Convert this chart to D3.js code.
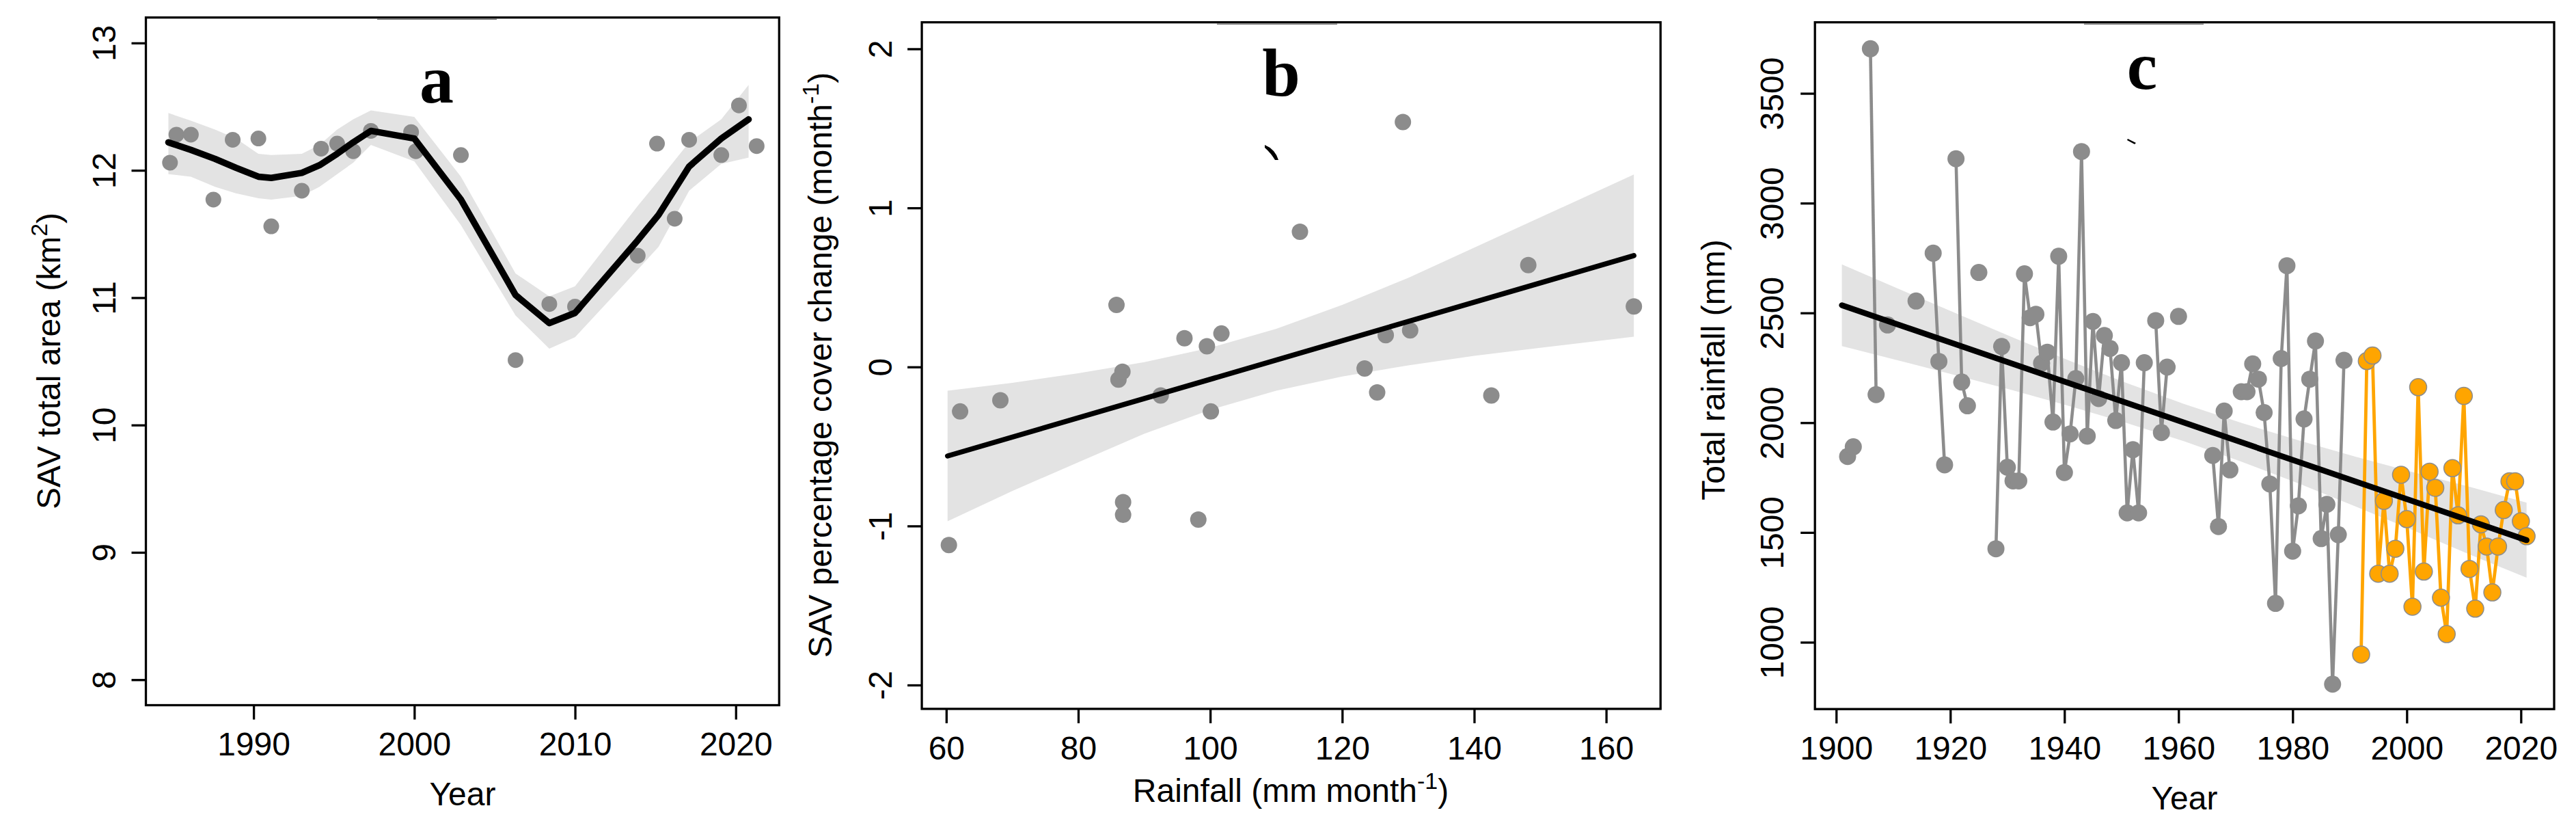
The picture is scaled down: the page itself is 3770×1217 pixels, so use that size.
<!DOCTYPE html>
<html><head><meta charset="utf-8">
<script src="https://cdn.jsdelivr.net/npm/d3@7"></script>
<style>body{margin:0;background:#fff}</style></head>
<body>
<svg id="chart" width="3770" height="1217"></svg>
<script>
// ---------------- DATA ----------------
// Panel a: SAV total area (km2) by year
const aYears = [1984.8,1985.2,1986.1,1987.5,1988.7,1990.3,1991.1,1993.0,1994.2,1995.2,1996.2,1997.3,1999.8,2000.1,2002.9,2006.3,2008.4,2010.0,2013.9,2015.1,2016.2,2017.1,2019.1,2020.2,2021.3];
const aArea  = [12.06,12.28,12.28,11.77,12.24,12.25,11.56,11.84,12.17,12.21,12.15,12.31,12.30,12.15,12.12,10.51,10.95,10.93,11.33,12.21,11.62,12.24,12.12,12.51,12.19];
const aFitYears = [1984.7,1986.1,1987.6,1988.9,1990.3,1991.1,1993.0,1994.1,1995.2,1996.2,1997.3,2000.0,2002.9,2006.3,2008.4,2010.0,2013.9,2015.2,2017.1,2019.1,2020.8];
const aFit      = [12.22,12.16,12.09,12.02,11.95,11.94,11.98,12.04,12.13,12.22,12.31,12.25,11.77,11.02,10.80,10.88,11.45,11.65,12.03,12.25,12.40];
const aFitUpper = [12.45,12.39,12.32,12.25,12.13,12.12,12.13,12.20,12.32,12.40,12.47,12.42,11.95,11.19,11.01,11.09,11.72,11.92,12.22,12.40,12.67];
const aFitLower = [11.97,11.95,11.87,11.82,11.78,11.77,11.80,11.87,11.97,12.06,12.20,12.07,11.57,10.86,10.60,10.69,11.22,11.40,11.84,12.05,12.10];
const aXTicks = [1990,2000,2010,2020];
const aYTicks = [8,9,10,11,12,13];

// Panel b: rainfall (mm/month) vs SAV % cover change (per month)
const bRain   = [60.4,62.1,68.2,85.8,86.1,86.7,86.8,86.8,92.5,96.1,98.2,99.5,100.1,101.7,113.6,123.4,125.3,126.6,129.2,130.3,142.6,148.2,164.2];
const bChange = [-1.12,-0.28,-0.21,0.39,-0.08,-0.03,-0.85,-0.93,-0.18,0.18,-0.96,0.13,-0.28,0.21,0.85,-0.01,-0.16,0.20,1.54,0.23,-0.18,0.64,0.38];
const bFitX = [60.2,164.2];
const bFit  = [-0.56,0.70];
const bBandX     = [60.2,70,80,90,100,110,120,130,140,150,164.2];
const bBandUpper = [-0.15,-0.10,-0.04,0.03,0.12,0.24,0.39,0.56,0.75,0.94,1.21];
const bBandLower = [-0.97,-0.78,-0.60,-0.42,-0.27,-0.15,-0.06,0.01,0.07,0.12,0.19];
const bXTicks = [60,80,100,120,140,160];
const bYTicks = [-2,-1,0,1,2];

// Panel c: total annual rainfall (mm)
const cYearsGray = [1902,1903,1906,1907,1909,1914,1917,1918,1919,1921,1922,1923,1925,1928,1929,1930,1931,1932,1933,1934,1935,1936,1937,1938,1939,1940,1941,1942,1943,1944,1945,1946,1947,1948,1949,1950,1951,1952,1953,1954,1956,1957,1958,1960,1966,1967,1968,1969,1971,1972,1973,1974,1975,1976,1977,1978,1979,1980,1981,1982,1983,1984,1985,1986,1987,1988,1989];
const cRainGray  = [1846,1890,3703,2128,2445,2554,2772,2279,1808,3202,2185,2077,2684,1426,2347,1797,1735,1735,2678,2478,2494,2271,2321,2003,2758,1773,1949,2201,3235,1939,2461,2110,2397,2338,2010,2273,1589,1877,1589,2273,2465,1955,2253,2484,1851,1527,2053,1785,2141,2141,2268,2198,2046,1721,1177,2292,2715,1415,1621,2017,2198,2372,1472,1628,809,1490,2284];
const cYearsOrange = [1992,1993,1994,1995,1996,1997,1998,1999,2000,2001,2002,2003,2004,2005,2006,2007,2008,2009,2010,2011,2012,2013,2014,2015,2016,2017,2018,2019,2020,2021];
const cRainOrange  = [944,2281,2306,1312,1644,1312,1426,1763,1561,1162,2162,1322,1777,1703,1203,1037,1793,1578,2122,1334,1153,1537,1436,1227,1436,1602,1733,1733,1551,1483];
const cTrendYears = [1901,2021];
const cTrend      = [2535,1465];
const cBandYears = [1901,1911,1921,1931,1941,1951,1961,1971,1981,1991,2001,2011,2021];
const cBandUpper = [2721,2609,2498,2388,2281,2180,2085,1999,1920,1845,1775,1708,1636];
const cBandLower = [2349,2283,2216,2147,2075,1998,1915,1823,1724,1619,1511,1400,1294];
const cXTicks = [1900,1920,1940,1960,1980,2000,2020];
const cYTicks = [1000,1500,2000,2500,3000,3500];

// ---------------- STYLE ----------------
const SANS = "'Liberation Sans', Arial, Helvetica, sans-serif";
const SERIF = "'Liberation Serif', 'Times New Roman', serif";
const FS = 48;
const PT = "#8c8c8c", BAND = "#e3e3e3", ORANGE = "#ffa500";

const svg = d3.select("#chart");
svg.append("rect").attr("width",3770).attr("height",1217).attr("fill","#fff");

function axes(g, x, y, box, xt, yt){
  const gx = g.append("g").attr("transform",`translate(0,${box.B})`)
    .call(d3.axisBottom(x).tickValues(xt).tickSize(21).tickFormat(d=>String(d)));
  gx.select(".domain").remove();
  gx.attr("font-size",FS).attr("font-family",SANS);
  gx.selectAll(".tick line").attr("stroke","#000").attr("stroke-width",3.3);
  gx.selectAll(".tick text").attr("fill","#000").attr("y",box.xlab).attr("dy","0.35em");
  const gy = g.append("g").attr("transform",`translate(${box.L},0)`)
    .call(d3.axisLeft(y).tickValues(yt).tickSize(21).tickFormat(d=>String(d)));
  gy.select(".domain").remove();
  gy.attr("font-size",FS).attr("font-family",SANS);
  gy.selectAll(".tick line").attr("stroke","#000").attr("stroke-width",3.3);
  gy.selectAll(".tick text").attr("fill","#000").attr("x",0).attr("dy","0.35em")
    .attr("text-anchor","middle").attr("transform",`translate(${-box.ylab},0) rotate(-90)`);
  g.append("rect").attr("x",box.L).attr("y",box.T).attr("width",box.R-box.L).attr("height",box.B-box.T)
    .attr("fill","none").attr("stroke","#000").attr("stroke-width",3.3);
  // slight thickening of top border segment (as in the original image)
  g.append("line").attr("x1",box.seg[0]).attr("x2",box.seg[1]).attr("y1",box.T+2.6).attr("y2",box.T+2.6)
    .attr("stroke","#777").attr("stroke-width",1.6);
}
function letter(g, s, x, y){
  g.append("text").attr("x",x).attr("y",y).attr("text-anchor","middle")
    .attr("font-family",SERIF).attr("font-weight","bold").attr("font-size",100).attr("fill","#000").text(s);
}
function xTitle(g, x, y, parts){
  const t = g.append("text").attr("x",x).attr("y",y).attr("dy","0.35em").attr("text-anchor","middle")
    .attr("font-family",SANS).attr("font-size",FS).attr("fill","#000");
  parts.forEach(p=>{
    const ts = t.append("tspan").text(p.t);
    if(p.sup){ ts.attr("font-size",34).attr("dy",-19); }
    else if(p.after){ ts.attr("dy",19); }
  });
}
function yTitle(g, x, y, parts){
  const t = g.append("text").attr("transform",`translate(${x},${y}) rotate(-90)`).attr("text-anchor","middle")
    .attr("font-family",SANS).attr("font-size",FS).attr("fill","#000");
  parts.forEach(p=>{
    const ts = t.append("tspan").text(p.t);
    if(p.sup){ ts.attr("font-size",34).attr("dy",-19); }
    else if(p.after){ ts.attr("dy",19); }
  });
}

// ---------------- PANEL A ----------------
{
  const box = {L:213.5,R:1140.3,T:25.6,B:1031.5,xlab:57,ylab:61,seg:[552,727]};
  const x = d3.scaleLinear().domain([1983.30,2022.70]).range([box.L,box.R]);
  const y = d3.scaleLinear().domain([7.8,13.2]).range([box.B,box.T]);
  const g = svg.append("g");
  const fitRows = aFitYears.map((t,i)=>({t, f:aFit[i], u:aFitUpper[i], l:aFitLower[i]}));
  g.append("path").datum(fitRows).attr("fill",BAND)
    .attr("d", d3.area().x(d=>x(d.t)).y0(d=>y(d.l)).y1(d=>y(d.u)));
  g.selectAll("circle.pa").data(aYears.map((t,i)=>({t,v:aArea[i]}))).join("circle")
    .attr("cx",d=>x(d.t)).attr("cy",d=>y(d.v)).attr("r",11.5).attr("fill",PT);
  g.append("path").datum(fitRows).attr("fill","none").attr("stroke","#000").attr("stroke-width",9.5)
    .attr("stroke-linejoin","round").attr("stroke-linecap","round")
    .attr("d", d3.line().x(d=>x(d.t)).y(d=>y(d.f)));
  axes(g,x,y,box,aXTicks,aYTicks);
  letter(g,"a",639,150);
  xTitle(g,677,1161,[{t:"Year"}]);
  yTitle(g,88,528,[{t:"SAV total area (km"},{t:"2",sup:true},{t:")",after:true}]);
}

// ---------------- PANEL B ----------------
{
  const box = {L:1349.1,R:2430.2,T:32.6,B:1036.9,xlab:57,ylab:61,seg:[1781,1957]};
  const x = d3.scaleLinear().domain([56.30,168.24]).range([box.L,box.R]);
  const y = d3.scaleLinear().domain([-2.150,2.167]).range([box.B,box.T]);
  const g = svg.append("g");
  const band = bBandX.map((v,i)=>({v,u:bBandUpper[i],l:bBandLower[i]}));
  g.append("path").datum(band).attr("fill",BAND)
    .attr("d", d3.area().x(d=>x(d.v)).y0(d=>y(d.l)).y1(d=>y(d.u)));
  g.selectAll("circle.pb").data(bRain.map((r,i)=>({r,c:bChange[i]}))).join("circle")
    .attr("cx",d=>x(d.r)).attr("cy",d=>y(d.c)).attr("r",12).attr("fill",PT);
  g.append("path").datum(bFitX.map((v,i)=>({v,f:bFit[i]}))).attr("fill","none")
    .attr("stroke","#000").attr("stroke-width",7.5).attr("stroke-linecap","round")
    .attr("d", d3.line().x(d=>x(d.v)).y(d=>y(d.f)));
  axes(g,x,y,box,bXTicks,bYTicks);
  letter(g,"b",1875,140);
  // small stray mark present in original
  g.append("path").attr("d","M1851,212 Q1866,218 1871,234 L1866,234 Q1860,224 1851,216 Z").attr("fill","#000");
  xTitle(g,1889,1156,[{t:"Rainfall (mm month"},{t:"-1",sup:true},{t:")",after:true}]);
  yTitle(g,1217,534,[{t:"SAV percentage cover change (month"},{t:"-1",sup:true},{t:")",after:true}]);
}

// ---------------- PANEL C ----------------
{
  const box = {L:2656.2,R:3738,T:32.6,B:1037.2,xlab:57,ylab:63,seg:[3050,3225]};
  const x = d3.scaleLinear().domain([1896.28,2025.83]).range([box.L,box.R]);
  const y = d3.scaleLinear().domain([695.6,3823.7]).range([box.B,box.T]);
  const g = svg.append("g");
  const band = cBandYears.map((t,i)=>({t,u:cBandUpper[i],l:cBandLower[i]}));
  g.append("path").datum(band).attr("fill",BAND)
    .attr("d", d3.area().x(d=>x(d.t)).y0(d=>y(d.l)).y1(d=>y(d.u)));
  // gray series: connect only consecutive years
  const gray = cYearsGray.map((t,i)=>({t,v:cRainGray[i]}));
  const segs = [];
  gray.forEach((d,i)=>{
    if(i===0 || d.t-gray[i-1].t>1) segs.push([d]); else segs[segs.length-1].push(d);
  });
  const line = d3.line().x(d=>x(d.t)).y(d=>y(d.v));
  g.selectAll("path.gseg").data(segs.filter(s=>s.length>1)).join("path")
    .attr("fill","none").attr("stroke",PT).attr("stroke-width",4.6).attr("d",line);
  g.selectAll("circle.pg").data(gray).join("circle")
    .attr("cx",d=>x(d.t)).attr("cy",d=>y(d.v)).attr("r",12.5).attr("fill",PT);
  const orange = cYearsOrange.map((t,i)=>({t,v:cRainOrange[i]}));
  g.append("path").datum(orange).attr("fill","none").attr("stroke",ORANGE).attr("stroke-width",4.8).attr("d",line);
  g.selectAll("circle.po").data(orange).join("circle")
    .attr("cx",d=>x(d.t)).attr("cy",d=>y(d.v)).attr("r",12.5).attr("fill",ORANGE)
    .attr("stroke",PT).attr("stroke-width",1.5);
  g.append("path").datum(cTrendYears.map((t,i)=>({t,v:cTrend[i]}))).attr("fill","none")
    .attr("stroke","#000").attr("stroke-width",8.5).attr("stroke-linecap","round").attr("d",line);
  axes(g,x,y,box,cXTicks,cYTicks);
  letter(g,"c",3135,130);
  g.append("path").attr("d","M3114,203 L3126,209 L3124,211 L3113,205 Z").attr("fill","#000");
  xTitle(g,3197,1167,[{t:"Year"}]);
  yTitle(g,2524,541,[{t:"Total rainfall (mm)"}]);
}
</script>
</body></html>
